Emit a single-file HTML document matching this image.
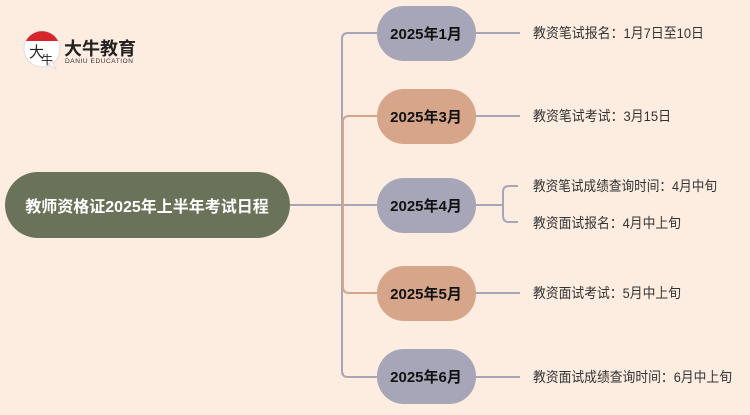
<!DOCTYPE html>
<html><head><meta charset="utf-8"><style>
body{margin:0;width:750px;height:410px;background:#fdede1;overflow:hidden}
svg text{font-family:"Liberation Sans","Noto Sans CJK SC",sans-serif}
</style></head><body>
<svg width="750" height="410" xmlns="http://www.w3.org/2000/svg">
<rect width="750" height="410" fill="#fdede1"/>
<!-- logo -->
<circle cx="42" cy="49" r="18" fill="#fff" stroke="#ddd"/>
<path d="M26 41 A18 18 0 0 1 58 41 Z" fill="#d6262b"/>
<path d="M48 64 L56 69 L52 61 Z" fill="#fff" stroke="#ddd"/>
<text x="29" y="57" font-size="15" fill="#222" font-family="Noto Serif CJK SC,serif">大</text>
<text x="41" y="64" font-size="12" fill="#222">牛</text>
<text x="64" y="55" font-size="18" font-weight="bold" fill="#222" textLength="72">大牛教育</text>
<text x="65" y="63" font-size="6.5" fill="#333" textLength="68">DANIU EDUCATION</text>
<!-- connectors -->
<g fill="none" stroke-width="2">
<path d="M290 205 H342" stroke="#a7a6b8"/>
<path d="M377 33 H348 Q342 33 342 39 V371 Q342 377 348 377 H377" stroke="#a7a6b8"/>
<path d="M342 205 H377" stroke="#a7a6b8"/>
<path d="M377 116 H349 Q343 116 343 122 V287 Q343 293 349 293 H377" stroke="#d7a68a"/>
<path d="M475 33 H520 M475 116 H520 M475 293 H520 M475 377 H520" stroke="#a7a6b8"/>
<path d="M475 205 H503 M518 186 H509 Q503 186 503 192 V216 Q503 222 509 222 H518" stroke="#a7a6b8"/>
</g>
<!-- root -->
<rect x="5" y="172" width="285" height="66" rx="33" fill="#6a735a"/>
<text x="147" y="212" font-size="16" font-weight="bold" fill="#fff" text-anchor="middle">教师资格证2025年上半年考试日程</text>
<!-- month nodes -->
<g font-size="15" font-weight="bold" fill="#111" text-anchor="middle">
<rect x="377" y="6" width="99" height="55" rx="27" fill="#a7a6b8"/><text x="426" y="39">2025年1月</text>
<rect x="377" y="89" width="99" height="55" rx="27" fill="#d7a68a"/><text x="426" y="122">2025年3月</text>
<rect x="377" y="178" width="99" height="55" rx="27" fill="#a7a6b8"/><text x="426" y="211">2025年4月</text>
<rect x="377" y="266" width="99" height="55" rx="27" fill="#d7a68a"/><text x="426" y="299">2025年5月</text>
<rect x="377" y="349" width="99" height="55" rx="27" fill="#a7a6b8"/><text x="426" y="382">2025年6月</text>
</g>
<g font-size="14" fill="#333" lengthAdjust="spacingAndGlyphs">
<text x="533" y="38" textLength="171" lengthAdjust="spacingAndGlyphs">教资笔试报名：1月7日至10日</text>
<text x="533" y="121" textLength="138" lengthAdjust="spacingAndGlyphs">教资笔试考试：3月15日</text>
<text x="533" y="191" textLength="184" lengthAdjust="spacingAndGlyphs">教资笔试成绩查询时间：4月中旬</text>
<text x="533" y="228" textLength="148" lengthAdjust="spacingAndGlyphs">教资面试报名：4月中上旬</text>
<text x="533" y="298" textLength="148" lengthAdjust="spacingAndGlyphs">教资面试考试：5月中上旬</text>
<text x="533" y="382" textLength="199" lengthAdjust="spacingAndGlyphs">教资面试成绩查询时间：6月中上旬</text>
</g>
</svg>
</body></html>
